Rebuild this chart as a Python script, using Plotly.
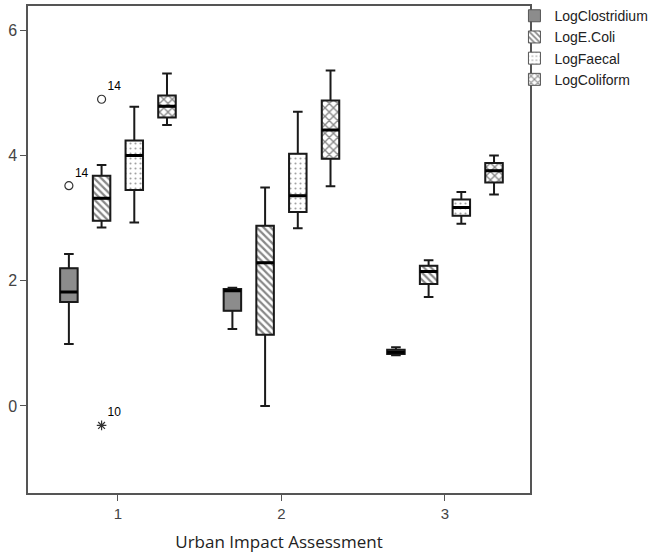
import plotly.graph_objects as go

categories = [1, 2, 3]
tick_labels = ["1", "2", "3"]
series_names = ["LogClostridium", "LogE.Coli", "LogFaecal", "LogColiform"]

clos_min = [0.99, 1.23, 0.81]
clos_q1 = [1.66, 1.52, 0.83]
clos_med = [1.82, 1.84, 0.86]
clos_q3 = [2.20, 1.87, 0.90]
clos_max = [2.43, 1.89, 0.94]

ecoli_min = [2.85, 0.00, 1.74]
ecoli_q1 = [2.96, 1.14, 1.95]
ecoli_med = [3.32, 2.29, 2.15]
ecoli_q3 = [3.68, 2.88, 2.24]
ecoli_max = [3.85, 3.49, 2.33]

faecal_min = [2.93, 2.84, 2.91]
faecal_q1 = [3.45, 3.10, 3.04]
faecal_med = [4.00, 3.36, 3.17]
faecal_q3 = [4.24, 4.03, 3.30]
faecal_max = [4.78, 4.70, 3.42]

coli_min = [4.49, 3.51, 3.38]
coli_q1 = [4.61, 3.95, 3.57]
coli_med = [4.79, 4.41, 3.76]
coli_q3 = [4.96, 4.88, 3.88]
coli_max = [5.31, 5.36, 4.00]

# outliers: category, series index, value, case label, kind
outlier_cat = [1, 1, 1]
outlier_series = [0, 1, 1]
outlier_val = [3.52, 4.90, -0.31]
outlier_label = ["14", "14", "10"]
outlier_kind = ["circle", "circle", "extreme"]

stats = [
    (clos_min, clos_q1, clos_med, clos_q3, clos_max),
    (ecoli_min, ecoli_q1, ecoli_med, ecoli_q3, ecoli_max),
    (faecal_min, faecal_q1, faecal_med, faecal_q3, faecal_max),
    (coli_min, coli_q1, coli_med, coli_q3, coli_max),
]

n_series = len(series_names)
group_width = 0.8
slot = group_width / n_series
box_w = 0.107


def offset(i):
    return (i - (n_series - 1) / 2) * slot


fills = [
    dict(color="#8c8c8c", pattern=dict(shape="")),
    dict(color="white", pattern=dict(shape="\\", fgcolor="#111", bgcolor="white", size=5, solidity=0.45)),
    dict(color="white", pattern=dict(shape=".", fgcolor="#444", bgcolor="white", size=5, solidity=0.14)),
    dict(color="white", pattern=dict(shape="x", fgcolor="#111", bgcolor="white", size=6, solidity=0.4)),
]

fig = go.Figure()

for i, name in enumerate(series_names):
    mn, q1, md, q3, mx = stats[i]
    pos = [c + offset(i) for c in categories]
    fig.add_trace(go.Bar(
        x=pos, base=q1, y=[b - a for a, b in zip(q1, q3)], width=box_w,
        name=name, marker=dict(color=fills[i]["color"], pattern=fills[i]["pattern"],
                               line=dict(color="#555", width=1)),
        showlegend=True, hoverinfo="skip",
    ))

for i, name in enumerate(series_names):
    mn, q1, md, q3, mx = stats[i]
    pos = [c + offset(i) for c in categories]
    fig.add_trace(go.Box(
        x=pos, q1=q1, median=md, q3=q3, lowerfence=mn, upperfence=mx,
        width=box_w, whiskerwidth=0.55, fillcolor="rgba(0,0,0,0)",
        line=dict(color="#1a1a1a", width=2), showlegend=False, hoverinfo="skip",
        boxpoints=False,
    ))
    fig.add_trace(go.Box(
        x=pos, q1=md, median=md, q3=md, lowerfence=md, upperfence=md,
        width=box_w, whiskerwidth=0, fillcolor="rgba(0,0,0,0)",
        line=dict(color="#000", width=3), showlegend=False, hoverinfo="skip",
        boxpoints=False,
    ))

for c, s, v, lab, kind in zip(outlier_cat, outlier_series, outlier_val, outlier_label, outlier_kind):
    fig.add_trace(go.Scatter(
        x=[c + offset(s)], y=[v], mode="markers+text", text=[lab],
        textposition="top right", textfont=dict(family="Liberation Sans", size=12, color="#000000"),
        marker=dict(symbol="circle-open" if kind == "circle" else "asterisk-open",
                    size=8, color="#333333", line=dict(width=1.2, color="#333333")),
        showlegend=False, hoverinfo="skip",
    ))

fig.update_layout(
    width=666, height=555,
    margin=dict(l=28, r=136, t=6, b=62, autoexpand=False),
    plot_bgcolor="white", paper_bgcolor="white",
    barmode="overlay", boxmode="overlay",
    font=dict(family="Liberation Sans", size=14, color="#333"),
    legend=dict(x=0.969, y=1.012, xanchor="left", yanchor="top",
                font=dict(family="Liberation Sans", size=14, color="#222"),
                tracegroupgap=0, itemwidth=30, bgcolor="rgba(0,0,0,0)"),
    xaxis=dict(range=[0.45, 3.52], tickmode="array", tickvals=categories, ticktext=tick_labels,
               showgrid=False, zeroline=False, showline=True, mirror=True, automargin=False,
               linecolor="#555", linewidth=1.5, ticks="outside", ticklen=6, tickcolor="#555",
               tickfont=dict(family="Liberation Sans", size=15, color="#444"),
               title=dict(text="Urban Impact Assessment", standoff=15,
                          font=dict(family="Open Sans", size=17, color="#222"))),
    yaxis=dict(range=[-1.39, 6.39], tickmode="array", tickvals=[0, 2, 4, 6],
               showgrid=False, zeroline=False, showline=True, mirror=True, automargin=False,
               linecolor="#555", linewidth=1.5, ticks="outside", ticklen=6, tickcolor="#555",
               tickfont=dict(family="Liberation Sans", size=16, color="#444")),
)

fig.write_html("out.html", config={"displayModeBar": False},
               post_script="document.body.style.margin='0px';")
